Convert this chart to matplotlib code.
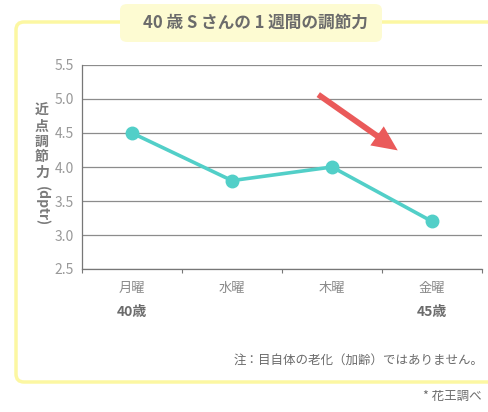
import matplotlib
matplotlib.use("Agg")
import matplotlib.pyplot as plt
from matplotlib.patches import FancyBboxPatch, FancyArrowPatch, PathPatch
from matplotlib.path import Path

plt.rcParams['font.family'] = ['Noto Sans CJK JP', 'DejaVu Sans']

days = ['月曜', '水曜', '木曜', '金曜']
ages = ['40歳', '', '', '45歳']
values = [4.5, 3.8, 4.0, 3.2]
yticks = [2.5, 3.0, 3.5, 4.0, 4.5, 5.0, 5.5]
title = '40 歳 S さんの 1 週間の調節力'
ylabel_cjk = '近点調節力'
ylabel_unit = '(dptr)'
note = '注：目自体の老化（加齢）ではありません。'
source = '* 花王調べ'

W, H = 489, 412
fig = plt.figure(figsize=(W / 100, H / 100), dpi=100)
fig.patch.set_facecolor('white')

def fx(px):
    return px / W

def fy(py):
    return 1 - py / H

# yellow frame: open on the right, runs off the edge
r = 8
verts = [(fx(W + 10), fy(22)), (fx(16 + r), fy(22)), (fx(16), fy(22)), (fx(16), fy(22 + r)),
         (fx(16), fy(382 - r)), (fx(16), fy(382)), (fx(16 + r), fy(382)),
         (fx(W + 10), fy(382))]
codes = [Path.MOVETO, Path.LINETO, Path.CURVE3, Path.CURVE3,
         Path.LINETO, Path.CURVE3, Path.CURVE3, Path.LINETO]
frame = PathPatch(Path(verts, codes), transform=fig.transFigure,
                  facecolor='none', edgecolor='#fcf7a2', linewidth=2.5)
fig.patches.append(frame)

# title box
tbox = FancyBboxPatch((fx(120), fy(42)), fx(382) - fx(120), fy(4) - fy(42),
                      boxstyle="round,pad=0,rounding_size=0.015",
                      transform=fig.transFigure, facecolor='#fdfbd2',
                      edgecolor='none')
fig.patches.append(tbox)
fig.text(fx(255), fy(23), title, ha='center', va='center', fontsize=12,
         fontweight='bold', color='#6b6b6b')

ax = fig.add_axes([fx(82), fy(269), fx(482) - fx(82), fy(65) - fy(269)])
x = list(range(len(days)))
ax.plot(x, values, color='#52cfc8', linewidth=2.6, marker='o',
        markersize=9, markerfacecolor='#52cfc8', markeredgecolor='#52cfc8',
        zorder=3, clip_on=False)
ax.set_xlim(-0.5, len(days) - 0.5)
ax.set_ylim(2.5, 5.5)
ax.set_yticks(yticks)
ax.set_yticklabels([f'{v:.1f}' for v in yticks])
for v in yticks:
    ax.axhline(v, color='#8c8c8c', linewidth=0.9, zorder=1)
ax.set_xticks([i - 0.5 for i in range(len(days) + 1)])
ax.set_xticklabels([])
ax.tick_params(axis='x', length=3, width=0.8, color='#777777', direction='out')
ax.tick_params(axis='y', length=0, labelsize=10, labelcolor='#999999', pad=6)
for s in ['top', 'right']:
    ax.spines[s].set_visible(False)
ax.spines['left'].set_color('#777777')
ax.spines['bottom'].set_color('#777777')
ax.spines['left'].set_linewidth(0.9)
ax.spines['bottom'].set_linewidth(0.9)

for i, (d, a) in enumerate(zip(days, ages)):
    ax.annotate(d, (i, 2.5), xytext=(0, -14), textcoords='offset points',
                ha='center', va='center', fontsize=9.5, color='#8a8a8a')
    if a:
        ax.annotate(a, (i, 2.5), xytext=(0, -31), textcoords='offset points',
                    ha='center', va='center', fontsize=10, color='#6b6b6b',
                    fontweight='bold')

# vertical y label
ystart = 111
for k, ch in enumerate(ylabel_cjk):
    fig.text(fx(42), fy(ystart + k * 15.5), ch, ha='center', va='center',
             fontsize=10, color='#7a7a7a', fontweight='bold')
fig.text(fx(42), fy(206), ylabel_unit, ha='center', va='center', rotation=-90,
         fontsize=10, color='#7a7a7a', fontweight='bold')

# red arrow
arr = FancyArrowPatch((fx(316), fy(93)), (fx(400), fy(152)),
                      transform=fig.transFigure,
                      arrowstyle='simple,head_length=1.3,head_width=1.2,tail_width=0.3',
                      mutation_scale=14, color='#ea5a5a', linewidth=0)
fig.patches.append(arr)

fig.text(fx(484), fy(360), note, ha='right', va='center', fontsize=9,
         color='#6b6b6b')
fig.text(fx(482), fy(396), source, ha='right', va='center', fontsize=9,
         color='#6b6b6b')

fig.savefig('out.png', dpi=100)
